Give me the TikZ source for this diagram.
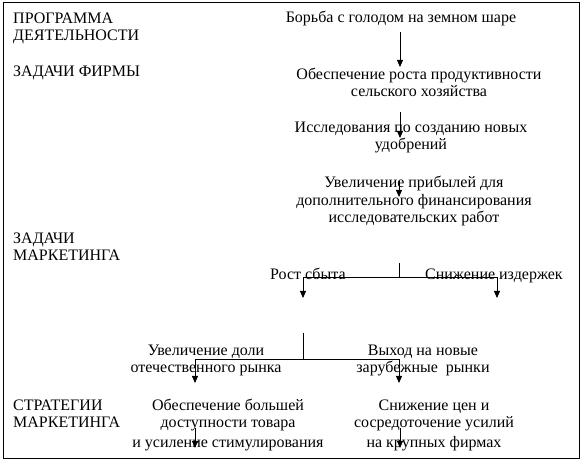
\documentclass[tikz,border=0pt]{standalone}
\usepackage{fontspec}
\setmainfont{Liberation Serif}
\usetikzlibrary{arrows.meta,positioning,calc}

\begin{document}
\begin{tikzpicture}[
  x=1pt, y=-1pt,
  font=\fontsize{16}{17.5}\selectfont, >={Triangle[width=6pt,length=7pt]},
  lvl/.style={anchor=base west, inner sep=0pt, align=left},
  txt/.style={anchor=base, inner sep=0pt, align=center},
  side/.style={anchor=base west, inner sep=0pt},
  wire/.style={line width=0.8pt},
  arr/.style={wire, ->},
]
  \useasboundingbox (0,0) rectangle (582,462);
  \draw[line width=1pt] (3,3) rectangle (579,459);
  % levels on the left (base = last line)
  \node[lvl] (lprog) at (13,41) {ПРОГРАММА\\ДЕЯТЕЛЬНОСТИ};
  \node[lvl] (lfirm) at (13,77) {ЗАДАЧИ ФИРМЫ};
  \node[lvl] (lmark) at (13,261) {ЗАДАЧИ\\МАРКЕТИНГА};
  \node[lvl] (lstrat) at (13,428) {СТРАТЕГИИ\\МАРКЕТИНГА};
  % goals and tasks
  \node[txt] (goal) at (401,23) {Борьба с голодом на земном шаре};
  \node[txt] (prod) at (419,97) {Обеспечение роста продуктивности\\сельского хозяйства};
  \node[txt] (res) at (411,150) {Исследования по созданию новых\\удобрений};
  \node[txt] (profit) at (414,223) {Увеличение прибылей для\\дополнительного финансирования\\исследовательских работ};
  \node[side] (sales) at (270,280) {Рост сбыта};
  \node[side] (costs) at (425,280) {Снижение издержек};
  \node[txt] (share) at (206,373) {Увеличение доли\\отечественного рынка};
  \node[txt] (abroad) at (423,373) {Выход на новые\\зарубежные\ \ рынки};
  % strategies
  \node[txt] (access) at (228,448) {Обеспечение большей\\доступности товара\\[2.5pt]и усиление стимулирования};
  \node[txt] (price) at (434,448) {Снижение цен и\\сосредоточение усилий\\[2.5pt]на крупных фирмах};
  % connector ends
  \coordinate (s1) at (400,32);  \coordinate (e1) at (400,67);
  \coordinate (s2) at (400,112); \coordinate (e2) at (400,138);
  \coordinate (s3) at (399,181); \coordinate (e3) at (399,197);
  \coordinate (f1) at (399,263); \coordinate (f2) at (399,277);
  \coordinate (fl) at (303,298); \coordinate (fr) at (497,298);
  \coordinate (m1) at (303,333); \coordinate (m2) at (303,359);
  \coordinate (ml) at (195,383); \coordinate (mr) at (399,383);
  \coordinate (s4) at (195,428); \coordinate (e4) at (195,448);
  \coordinate (s5) at (400,428); \coordinate (e5) at (400,448);
  \foreach \s/\e in {s1/e1,s2/e2,s3/e3,s4/e4,s5/e5} \draw[arr] (\s) -- (\e);
  \draw[wire] (f1) -- (f2);
  \draw[arr] (f2) -| (fl);  \draw[arr] (f2) -| (fr);
  \draw[wire] (m1) -- (m2);
  \draw[arr] (m2) -| (ml);  \draw[arr] (m2) -| (mr);
\end{tikzpicture}
\end{document}
